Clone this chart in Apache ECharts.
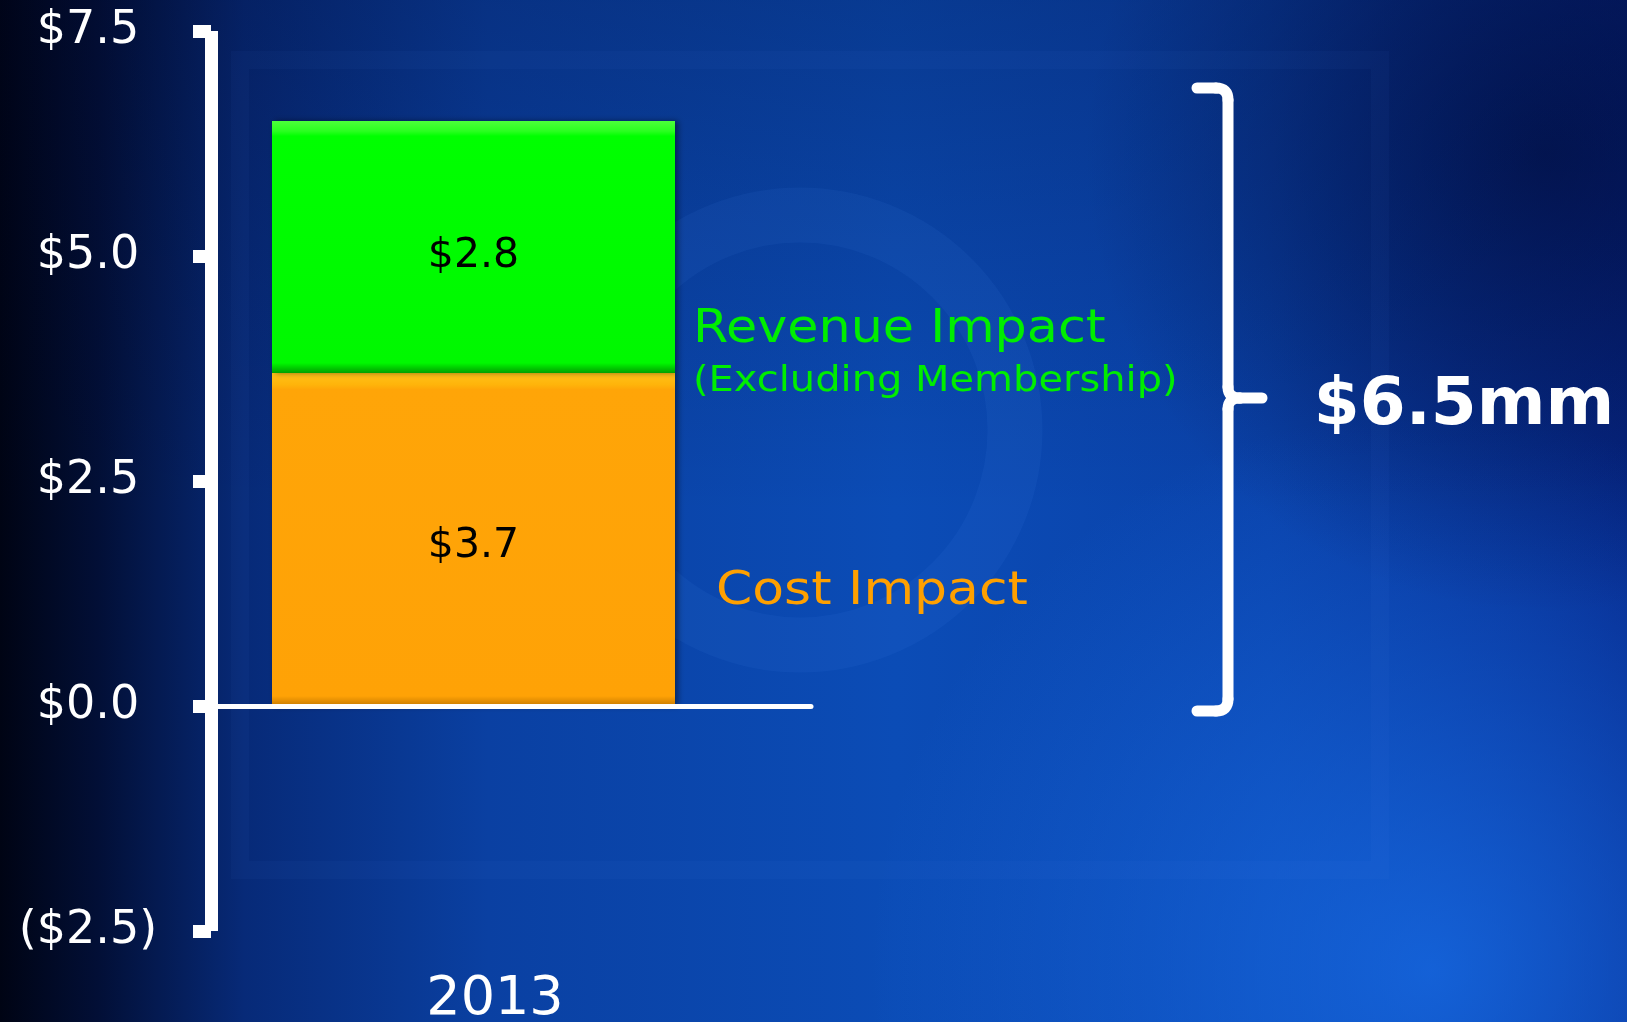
<!DOCTYPE html>
<html lang="en">
<head>
    <meta charset="UTF-8">
    <title>2013 Impact</title>
    <script src="https://cdn.jsdelivr.net/npm/echarts@6.0.0/dist/echarts.min.js"></script>
    <style>
        html, body { margin: 0; padding: 0; background: #031a52; }
        #main { width: 1627px; height: 1022px; }
    </style>
</head>
<body>
<div id="main"></div>
<script>
    // chart data
    var years = ['2013'];
    var costImpact = [3.7];
    var revenueImpact = [2.8];
    var yMin = -2.5;
    var yMax = 7.5;
    var yStep = 2.5;

    var FONT = '"DejaVu Sans", Verdana, sans-serif';

    function money(v) {
        if (v < 0) return '($' + Math.abs(v).toFixed(1) + ')';
        return '$' + v.toFixed(1);
    }

    var total = costImpact[0] + revenueImpact[0];

    // pieces of the curly brace on the right
    var braceStyle = { stroke: '#ffffff', lineWidth: 11, lineCap: 'round', fill: 'none' };
    function braceLine(x1, y1, x2, y2) {
        return { type: 'line', z: 20, silent: true, shape: { x1: x1, y1: y1, x2: x2, y2: y2 }, style: braceStyle };
    }
    function braceCurve(x1, y1, cx, cy, x2, y2) {
        return { type: 'bezierCurve', z: 20, silent: true,
            shape: { x1: x1, y1: y1, cpx1: cx, cpy1: cy, x2: x2, y2: y2 }, style: braceStyle };
    }

    var myChart = echarts.init(document.getElementById('main'));

    var option = {
        backgroundColor: '#031a52',
        animation: false,
        grid: [
            // bar grid
            { left: 211, top: 31, width: 525, height: 900, containLabel: false, outerBoundsMode: 'none' },
            // zero line grid, a bit wider
            { left: 211, top: 31, width: 600, height: 900, containLabel: false, outerBoundsMode: 'none' }
        ],
        xAxis: [
            {
                type: 'category',
                gridIndex: 0,
                data: years,
                axisLine: { show: false, onZero: false },
                axisTick: { show: false },
                splitLine: { show: false },
                axisLabel: {
                    color: '#ffffff',
                    fontFamily: FONT,
                    fontSize: 54,
                    margin: 42,
                    padding: [0, 0, 0, 43]
                }
            },
            {
                type: 'category',
                gridIndex: 1,
                data: years,
                z: 10,
                axisLine: { show: true, onZero: true, lineStyle: { color: '#ffffff', width: 5 } },
                axisTick: { show: false },
                axisLabel: { show: false },
                splitLine: { show: false }
            }
        ],
        yAxis: [
            {
                type: 'value',
                gridIndex: 0,
                min: yMin,
                max: yMax,
                interval: yStep,
                z: 10,
                axisLine: { show: true, lineStyle: { color: '#ffffff', width: 13, cap: 'butt' } },
                axisTick: { show: true, length: 18, lineStyle: { color: '#ffffff', width: 13 } },
                splitLine: { show: false },
                axisLabel: {
                    color: '#ffffff',
                    fontFamily: FONT,
                    fontSize: 46,
                    align: 'center',
                    margin: 123,
                    formatter: money
                }
            },
            {
                type: 'value',
                gridIndex: 1,
                min: yMin,
                max: yMax,
                interval: yStep,
                show: false
            }
        ],
        series: [
            {
                name: 'Cost Impact',
                type: 'bar',
                stack: 'impact',
                xAxisIndex: 0,
                yAxisIndex: 0,
                barWidth: 403,
                data: costImpact,
                itemStyle: {
                    color: new echarts.graphic.LinearGradient(0, 0, 0, 1, [
                        { offset: 0, color: '#ffc21a' },
                        { offset: 0.035, color: '#ffb40a' },
                        { offset: 0.05, color: '#ffa508' },
                        { offset: 0.97, color: '#ffa206' },
                        { offset: 1, color: '#c77a00' }
                    ]),
                    shadowColor: 'rgba(0,0,0,0.45)',
                    shadowBlur: 6,
                    shadowOffsetX: 3
                },
                label: {
                    show: true,
                    position: 'inside',
                    offset: [0, 7],
                    color: '#000000',
                    fontFamily: FONT,
                    fontSize: 41,
                    formatter: function (p) { return money(p.value); }
                }
            },
            {
                name: 'Revenue Impact',
                type: 'bar',
                stack: 'impact',
                xAxisIndex: 0,
                yAxisIndex: 0,
                barWidth: 403,
                data: revenueImpact,
                itemStyle: {
                    color: new echarts.graphic.LinearGradient(0, 0, 0, 1, [
                        { offset: 0, color: '#4dff3a' },
                        { offset: 0.04, color: '#2aff20' },
                        { offset: 0.06, color: '#00ff00' },
                        { offset: 0.96, color: '#00f800' },
                        { offset: 1, color: '#00a000' }
                    ]),
                    shadowColor: 'rgba(0,0,0,0.45)',
                    shadowBlur: 6,
                    shadowOffsetX: 3
                },
                label: {
                    show: true,
                    position: 'inside',
                    offset: [0, 9],
                    color: '#000000',
                    fontFamily: FONT,
                    fontSize: 41,
                    formatter: function (p) { return money(p.value); }
                }
            }
        ],
        graphic: [
            // background
            {
                type: 'rect', z: -100, silent: true,
                shape: { x: 0, y: 0, width: 1627, height: 1022 },
                style: {
                    fill: new echarts.graphic.LinearGradient(0, 0, 1, 0, [
                        { offset: 0, color: '#000414' },
                        { offset: 0.06, color: '#020f36' },
                        { offset: 0.15, color: '#072a78' },
                        { offset: 0.3, color: '#0a40a2' },
                        { offset: 0.55, color: '#0b4cb6' },
                        { offset: 0.78, color: '#0a42aa' },
                        { offset: 1, color: '#06288a' }
                    ])
                }
            },
            {
                type: 'rect', z: -99, silent: true,
                shape: { x: 0, y: 0, width: 1627, height: 1022 },
                style: {
                    fill: new echarts.graphic.RadialGradient(0.88, 0.95, 0.55, [
                        { offset: 0, color: 'rgba(25,115,240,0.7)' },
                        { offset: 1, color: 'rgba(25,115,240,0)' }
                    ])
                }
            },
            {
                type: 'rect', z: -99, silent: true,
                shape: { x: 0, y: 0, width: 1627, height: 1022 },
                style: {
                    fill: new echarts.graphic.RadialGradient(0.95, 0.15, 0.45, [
                        { offset: 0, color: 'rgba(0,8,50,0.6)' },
                        { offset: 1, color: 'rgba(0,8,50,0)' }
                    ])
                }
            },
            {
                type: 'rect', z: -99, silent: true,
                shape: { x: 0, y: 0, width: 1627, height: 1022 },
                style: {
                    fill: new echarts.graphic.LinearGradient(0, 0, 0, 1, [
                        { offset: 0, color: 'rgba(0,6,40,0.25)' },
                        { offset: 0.5, color: 'rgba(0,6,40,0)' },
                        { offset: 1, color: 'rgba(0,6,40,0)' }
                    ])
                }
            },
            // faint ring and frame in the backdrop
            {
                type: 'circle', z: -98, silent: true,
                shape: { cx: 800, cy: 430, r: 215 },
                style: { fill: 'none', stroke: 'rgba(90,160,255,0.07)', lineWidth: 55 }
            },
            {
                type: 'rect', z: -98, silent: true,
                shape: { x: 240, y: 60, width: 1140, height: 810 },
                style: { fill: 'none', stroke: 'rgba(100,160,255,0.04)', lineWidth: 18 }
            },
            // series notes
            {
                type: 'text', x: 693, y: 330, scaleX: 1.08, z: 20,
                style: {
                    text: 'Revenue Impact', x: 0, y: 0,
                    fill: '#00ee00', font: '47px ' + FONT,
                    textAlign: 'left', textVerticalAlign: 'middle'
                }
            },
            {
                type: 'text', x: 693, y: 382, scaleX: 1.11, z: 20,
                style: {
                    text: '(Excluding Membership)', x: 0, y: 0,
                    fill: '#00ee00', font: '36px ' + FONT,
                    textAlign: 'left', textVerticalAlign: 'middle'
                }
            },
            {
                type: 'text', x: 716, y: 592, scaleX: 1.13, z: 20,
                style: {
                    text: 'Cost Impact', x: 0, y: 0,
                    fill: '#ffa000', font: '46px ' + FONT,
                    textAlign: 'left', textVerticalAlign: 'middle'
                }
            },
            // total brace
            braceLine(1197, 88, 1216, 88),
            braceCurve(1216, 88, 1228, 88, 1228, 100),
            braceLine(1228, 100, 1228, 387),
            braceCurve(1228, 387, 1228, 398, 1240, 398),
            braceLine(1240, 398, 1262, 398),
            braceCurve(1240, 398, 1228, 398, 1228, 409),
            braceLine(1228, 409, 1228, 699),
            braceCurve(1228, 699, 1228, 711, 1216, 711),
            braceLine(1216, 711, 1197, 711),
            {
                type: 'text', x: 1464, y: 407, z: 20,
                style: {
                    text: '$' + total.toFixed(1) + 'mm', x: 0, y: 0,
                    fill: '#ffffff', font: 'bold 66px ' + FONT,
                    textAlign: 'center', textVerticalAlign: 'middle'
                }
            }
        ]
    };

    myChart.setOption(option);
</script>
</body>
</html>
